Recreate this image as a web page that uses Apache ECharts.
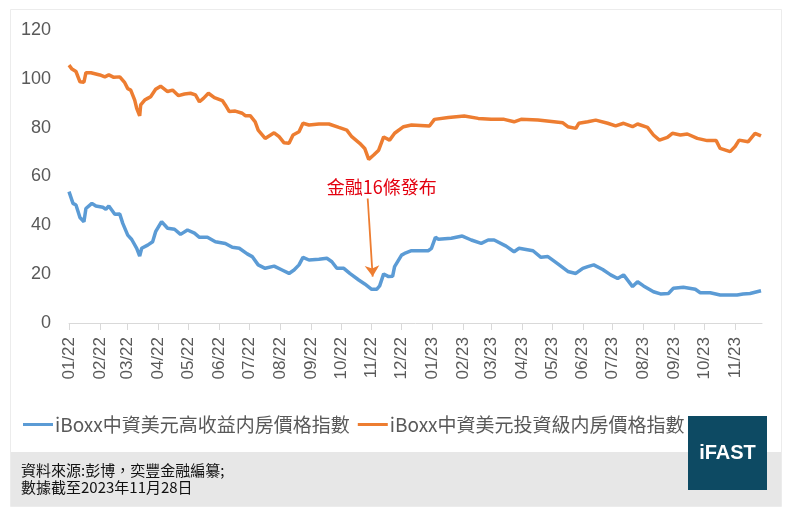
<!DOCTYPE html>
<html>
<head>
<meta charset="utf-8">
<script src="https://cdn.jsdelivr.net/npm/echarts@6/dist/echarts.min.js"></script>
<style>
  html, body { margin: 0; padding: 0; background: #fff; }
  #chart { width: 789px; height: 513px; }
</style>
</head>
<body>
<div id="chart"></div>
<script>
// 高收益 (blue)
var hyDates = ['2022-01-01','2022-01-05','2022-01-08','2022-01-12','2022-01-16','2022-01-18','2022-01-24','2022-01-28',
    '2022-02-04','2022-02-07','2022-02-10','2022-02-16','2022-02-21','2022-02-24',
    '2022-03-01','2022-03-05','2022-03-10','2022-03-13','2022-03-15','2022-03-21','2022-03-26','2022-03-29',
    '2022-04-04','2022-04-10','2022-04-17','2022-04-23','2022-04-30',
    '2022-05-07','2022-05-12','2022-05-20','2022-05-28',
    '2022-06-07','2022-06-14','2022-06-21','2022-06-29',
    '2022-07-04','2022-07-10','2022-07-17','2022-07-26',
    '2022-08-03','2022-08-10','2022-08-15','2022-08-20','2022-08-24','2022-08-30',
    '2022-09-09','2022-09-17','2022-09-22','2022-09-27',
    '2022-10-04','2022-10-10','2022-10-19','2022-10-25',
    '2022-11-01','2022-11-06','2022-11-09','2022-11-13','2022-11-18','2022-11-22','2022-11-24',
    '2022-12-01','2022-12-04','2022-12-11','2022-12-28','2022-12-31',
    '2023-01-04','2023-01-07','2023-01-20','2023-01-31',
    '2023-02-09','2023-02-19','2023-02-26',
    '2023-03-04','2023-03-16','2023-03-24','2023-03-29',
    '2023-04-12','2023-04-20','2023-04-27',
    '2023-05-07','2023-05-17','2023-05-25',
    '2023-06-01','2023-06-06','2023-06-12','2023-06-21','2023-06-29',
    '2023-07-06','2023-07-12','2023-07-21','2023-07-26',
    '2023-08-01','2023-08-11','2023-08-18','2023-08-26','2023-08-31',
    '2023-09-10','2023-09-22','2023-09-27',
    '2023-10-07','2023-10-17',
    '2023-11-03','2023-11-09','2023-11-16','2023-11-27'];
var hyValues = [53.8,49,48.3,43.2,41.5,46.9,49,47.9,
    47.4,46.6,47.9,44.5,44.6,40.8,
    36,34.2,30.6,27.4,30.6,31.9,33.3,37.4,
    41.5,38.8,38.4,36.3,38.1,
    36.8,35.1,35.1,33.3,
    32.6,31,30.6,28.3,
    27.2,23.8,22.4,23.3,
    21.7,20.3,21.7,23.8,26.9,25.8,
    26.1,26.5,25.1,22.4,
    22.4,20.3,17.6,16,
    13.8,13.8,15.2,20.1,19,19.1,23.1,
    27.8,28.5,29.6,29.6,30.6,
    35.1,34.3,34.7,35.6,
    34,32.6,34,
    34,31.5,29.2,30.6,
    29.6,26.9,27.2,
    24.2,21.1,20.3,
    22.4,23.1,23.8,21.9,19.7,
    18.2,19.7,14.9,16.9,
    15.2,12.8,11.9,12.1,14.2,
    14.6,13.8,12.4,
    12.4,11.5,
    11.5,11.9,12.1,13.2];

// 投資級 (orange)
var igDates = ['2022-01-01','2022-01-04','2022-01-08','2022-01-12','2022-01-16','2022-01-18','2022-01-23',
    '2022-02-01','2022-02-06','2022-02-10','2022-02-15','2022-02-21','2022-02-26',
    '2022-03-01','2022-03-04','2022-03-08','2022-03-10','2022-03-13','2022-03-14','2022-03-18','2022-03-21','2022-03-24','2022-03-29',
    '2022-04-03','2022-04-10','2022-04-15','2022-04-21','2022-04-27',
    '2022-05-03','2022-05-08','2022-05-12','2022-05-16','2022-05-21','2022-05-27',
    '2022-06-04','2022-06-07','2022-06-11','2022-06-17','2022-06-24','2022-06-27',
    '2022-07-02','2022-07-07','2022-07-10','2022-07-17','2022-07-26','2022-07-31',
    '2022-08-05','2022-08-10','2022-08-14','2022-08-20','2022-08-24','2022-08-30',
    '2022-09-09','2022-09-19','2022-09-29',
    '2022-10-07','2022-10-12','2022-10-20','2022-10-25','2022-10-29',
    '2022-11-03','2022-11-08','2022-11-13','2022-11-19','2022-11-24',
    '2022-12-03','2022-12-11','2022-12-29',
    '2023-01-03','2023-01-17',
    '2023-02-02','2023-02-16',
    '2023-03-01','2023-03-14','2023-03-24','2023-03-31',
    '2023-04-17',
    '2023-05-03','2023-05-12','2023-05-17','2023-05-25','2023-05-28',
    '2023-06-06','2023-06-14','2023-06-26',
    '2023-07-04','2023-07-12','2023-07-21','2023-07-26',
    '2023-08-05','2023-08-11','2023-08-17','2023-08-25','2023-08-30',
    '2023-09-07','2023-09-14','2023-09-24',
    '2023-10-04','2023-10-13','2023-10-17','2023-10-27',
    '2023-11-01','2023-11-05','2023-11-14','2023-11-21','2023-11-27'];
var igValues = [105.6,104,103,98.8,98.6,102.5,102.5,
    101.6,100.8,101.6,100.6,100.8,98.4,
    96,95.4,91.3,87.9,84.8,89.3,91.3,92,92.7,95.7,
    97,94.8,95.4,93.1,93.8,
    94.1,93.4,90.6,92,94.1,92.3,
    91.1,89.3,86.6,86.8,85.9,84.9,
    84.9,82.4,79,75.6,77.9,76.3,
    73.8,73.6,77,78.3,81.8,81.1,
    81.5,81.5,80.1,
    79,76.3,73.6,71.5,67,
    68.8,70.8,76.2,74.9,77.7,
    80.4,81.1,80.7,
    83.4,84.2,
    84.8,83.8,
    83.4,83.4,82.4,83.4,
    83.1,
    82.4,82,80.4,79.7,81.8,
    82.4,83.1,81.8,
    80.7,81.8,80.4,81.5,
    80.1,77,74.9,76,77.7,
    77,77.4,75.6,
    74.7,74.7,71.5,70.2,
    72.3,74.9,74.2,77.7,76.6];

var seriesNames = ['iBoxx中資美元高收益内房價格指數', 'iBoxx中資美元投資級内房價格指數'];
var yTicks = {min: 0, max: 120, step: 20};

// annotation: 金融16條發布
var noteText = '金融16條發布';
var noteAt = ['2022-11-11', 55.5];
var arrowFrom = ['2022-10-28', 51];
var arrowTo = ['2022-11-02', 19];

// daily category axis 2022-01-01 .. 2023-11-28
var days = [];
(function () {
    var t = Date.UTC(2022, 0, 1), end = Date.UTC(2023, 10, 28);
    for (; t <= end; t += 86400000) {
        days.push(new Date(t).toISOString().slice(0, 10));
    }
})();

function pairs(d, v) {
    return d.map(function (x, i) { return [x, v[i]]; });
}
function isMonthStart(idx, val) {
    return val.slice(8) === '01';
}

var grey = '#595959';
var font = "'Noto Sans CJK TC', 'Liberation Sans', sans-serif";

var chart = echarts.init(document.getElementById('chart'));
chart.setOption({
    animation: false,
    textStyle: {fontFamily: font},
    color: ['#5b9bd5', '#ed7d31'],
    grid: {left: 69, right: 27, top: 30, bottom: 190, containLabel: false},
    legend: {
        left: 18, top: 410,
        icon: 'rect', itemWidth: 30, itemHeight: 3, itemGap: 8,
        textStyle: {color: grey, fontSize: 19, fontFamily: font, padding: [0, 0, 0, -3]},
        data: seriesNames
    },
    xAxis: {
        type: 'category',
        data: days,
        boundaryGap: false,
        axisLine: {lineStyle: {color: '#d9d9d9', width: 1}},
        axisTick: {show: true, interval: isMonthStart, length: 7, lineStyle: {color: '#d9d9d9'}},
        axisLabel: {
            interval: isMonthStart, rotate: 90, margin: 14,
            color: grey, fontSize: 17, fontFamily: "'Liberation Sans', sans-serif",
            formatter: function (v) { return v.slice(5, 7) + '/' + v.slice(2, 4); }
        },
        splitLine: {show: false}
    },
    yAxis: {
        type: 'value',
        min: yTicks.min, max: yTicks.max, interval: yTicks.step,
        axisLine: {show: false}, axisTick: {show: false},
        splitLine: {show: false},
        axisLabel: {color: grey, fontSize: 18, margin: 18, fontFamily: "'Liberation Sans', sans-serif"}
    },
    series: [
        {
            name: seriesNames[0], type: 'line',
            data: pairs(hyDates, hyValues),
            showSymbol: false, symbol: 'none',
            lineStyle: {width: 3.5, color: '#5b9bd5'},
            markLine: {
                silent: true,
                symbol: ['none', 'arrow'], symbolSize: 11,
                label: {show: false},
                lineStyle: {color: '#ed7d31', width: 1.8, type: 'solid'},
                itemStyle: {color: '#ed7d31'},
                data: [[{coord: arrowFrom}, {coord: arrowTo}]]
            },
            markPoint: {
                silent: true,
                symbol: 'rect', symbolSize: 1,
                itemStyle: {color: 'rgba(0,0,0,0)'},
                label: {show: true, position: 'inside', color: '#e3000f', fontSize: 18, fontFamily: font,
                    formatter: noteText},
                data: [{coord: noteAt}]
            }
        },
        {
            name: seriesNames[1], type: 'line',
            data: pairs(igDates, igValues),
            showSymbol: false, symbol: 'none',
            lineStyle: {width: 3.5, color: '#ed7d31'}
        }
    ],
    graphic: [
        {type: 'rect', z: -10, shape: {x: 10.5, y: 9.5, width: 771, height: 497},
            style: {fill: '#fff', stroke: '#ececec', lineWidth: 1}},
        {type: 'rect', z: -9, shape: {x: 11, y: 452, width: 770, height: 54},
            style: {fill: '#e7e7e7'}},
        {type: 'text', left: 21, top: 462,
            style: {text: '資料來源:彭博，奕豐金融編纂;\n數據截至2023年11月28日', fill: '#111',
                font: "15px 'Noto Sans CJK TC'", lineHeight: 17}},
        {type: 'rect', shape: {x: 688, y: 416, width: 79, height: 74},
            style: {fill: '#0d4a63'}},
        {type: 'text', x: 727.5, y: 453,
            style: {text: 'iFAST', fill: '#fff', font: "bold 20px 'Liberation Sans'",
                align: 'center', verticalAlign: 'middle'}}
    ]
});
</script>
</body>
</html>
